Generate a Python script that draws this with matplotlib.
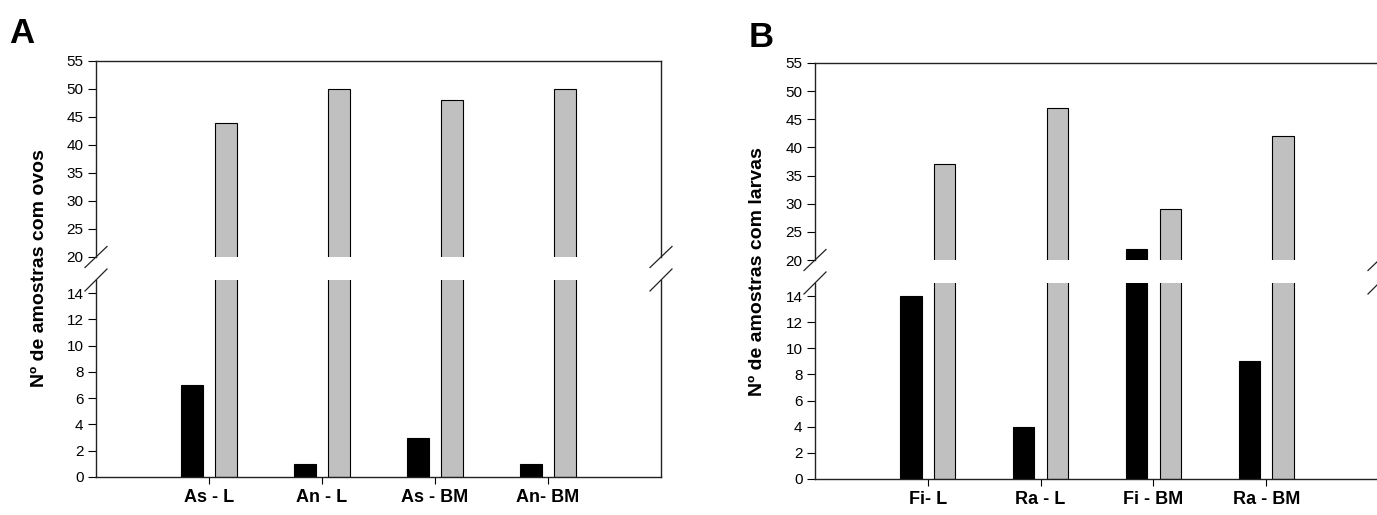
import numpy as np
import matplotlib
matplotlib.use("Agg")
import matplotlib.pyplot as plt

plt.rcParams['font.family'] = ['Liberation Sans', 'DejaVu Sans']

# data
cats_a = ['As - L', 'An - L', 'As - BM', 'An- BM']
black_a = [7, 1, 3, 1]
gray_a = [44, 50, 48, 50]
ylabel_a = 'Nº de amostras com ovos'

cats_b = ['Fi- L', 'Ra - L', 'Fi - BM', 'Ra - BM']
black_b = [14, 4, 22, 9]
gray_b = [37, 47, 29, 42]
ylabel_b = 'Nº de amostras com larvas'

W, H = 1377, 515
fig = plt.figure(figsize=(W / 100, H / 100), dpi=100)


def fr(px_left, px_top, px_right, px_bottom):
    return [px_left / W, 1 - px_bottom / H, (px_right - px_left) / W, (px_bottom - px_top) / H]


def panel(left, right, top, mid_hi, mid_lo, bottom, cats, black, gray, ylabel, letter, lx, ly, ylx):
    ax_up = fig.add_axes(fr(left, top, right, mid_hi))
    ax_lo = fig.add_axes(fr(left, mid_lo, right, bottom))
    x = np.arange(1, len(cats) + 1)
    w = 0.19
    for ax in (ax_up, ax_lo):
        ax.bar(x - 0.15, black, width=w, color='black', edgecolor='black', linewidth=0.8)
        ax.bar(x + 0.15, gray, width=w, color='#c0c0c0', edgecolor='black', linewidth=0.8)
        ax.set_xlim(0, 5)
        for s in ax.spines.values():
            s.set_linewidth(1.0)
            s.set_color('#222222')
        ax.tick_params(axis='y', direction='out', length=6, width=0.8, labelsize=11, pad=3)
    ax_up.set_ylim(20, 55)
    ax_up.set_yticks(range(20, 56, 5))
    ax_up.spines['bottom'].set_visible(False)
    ax_up.set_xticks([])
    ax_lo.set_ylim(0, 15)
    ax_lo.set_yticks(range(0, 15, 2))
    ax_lo.spines['top'].set_visible(False)
    ax_lo.set_xticks(x)
    ax_lo.set_xticklabels(cats, fontweight='bold', fontsize=13)
    ax_lo.tick_params(axis='x', direction='out', length=5, width=0.8, pad=4)

    # break marks
    kw = dict(color='#222222', linewidth=0.9, clip_on=False)
    dx = 11 / (right - left)
    dyu = 10.5 / (mid_hi - top)
    dyl = 11 / (bottom - mid_lo)
    for xx in (0, 1):
        ax_up.plot([xx - dx, xx + dx], [-dyu, dyu], transform=ax_up.transAxes, **kw)
        ax_lo.plot([xx - dx, xx + dx], [1 - dyl, 1 + dyl], transform=ax_lo.transAxes, **kw)

    fig.text(ylx / W, 1 - (mid_hi + mid_lo) / 2 / H, ylabel, rotation=90, ha='center', va='center',
             fontsize=14, fontweight='bold')
    fig.text(lx / W, 1 - ly / H, letter, ha='left', va='baseline', fontsize=25, fontweight='bold')


panel(96, 661, 61, 257, 280, 477, cats_a, black_a, gray_a, ylabel_a, 'A', 9, 43, 40)
panel(815, 1379, 63, 260, 283, 479, cats_b, black_b, gray_b, ylabel_b, 'B', 749, 47, 758)

fig.savefig('out.png', dpi=100)
